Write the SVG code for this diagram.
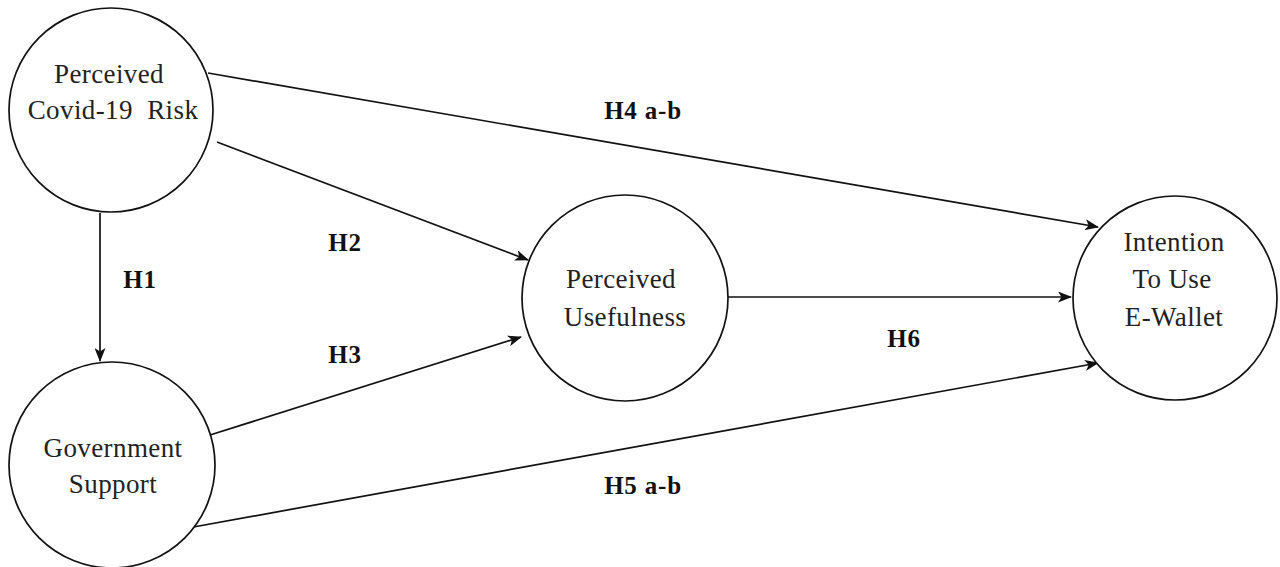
<svg xmlns="http://www.w3.org/2000/svg" width="1280" height="567" viewBox="0 0 1280 567">
<style>
.node{fill:#fff;stroke:#111;stroke-width:1.7}
.nt{font-family:"Liberation Serif","Times New Roman",serif;font-size:27px;letter-spacing:0.4px;fill:#222;text-anchor:middle;white-space:pre}
.lbl{font-family:"Liberation Serif","Times New Roman",serif;font-size:25px;letter-spacing:0.8px;font-weight:bold;fill:#111;text-anchor:middle}
.edge{fill:none;stroke:#111;stroke-width:1.7;marker-end:url(#arr)}
</style>
<defs>
<marker id="arr" viewBox="0 0 14 11" refX="13" refY="5.5" markerWidth="14" markerHeight="11" markerUnits="userSpaceOnUse" orient="auto">
<path d="M0,0 L14,5.5 L0,11 L3.5,5.5 Z" fill="#111"/>
</marker>
</defs>
<g id="connectors">
<line class="edge" x1="100" y1="213" x2="100" y2="361"/>
<line class="edge" x1="208" y1="73" x2="1098" y2="227"/>
<line class="edge" x1="217" y1="142" x2="528" y2="260"/>
<line class="edge" x1="210" y1="435" x2="521" y2="337"/>
<line class="edge" x1="188" y1="528" x2="1098" y2="363"/>
<line class="edge" x1="728" y1="297" x2="1071" y2="297"/>
</g>
<g id="node-risk">
<circle class="node" cx="111" cy="110" r="102"/>
<text class="nt" x="109" y="83">Perceived</text>
<text class="nt" x="113" y="119" xml:space="preserve">Covid-19  Risk</text>
</g>
<g id="node-gov">
<circle class="node" cx="112" cy="465" r="103"/>
<text class="nt" x="113" y="457">Government</text>
<text class="nt" x="113" y="493">Support</text>
</g>
<g id="node-pu">
<circle class="node" cx="625" cy="298" r="103"/>
<text class="nt" x="621" y="288">Perceived</text>
<text class="nt" x="625" y="326">Usefulness</text>
</g>
<g id="node-intention">
<circle class="node" cx="1175" cy="298" r="102"/>
<text class="nt" x="1174" y="251">Intention</text>
<text class="nt" x="1172" y="288">To Use</text>
<text class="nt" x="1174" y="326">E-Wallet</text>
</g>
<g id="labels">
<text class="lbl" x="643" y="119">H4 a-b</text>
<text class="lbl" x="345" y="251">H2</text>
<text class="lbl" x="140" y="288">H1</text>
<text class="lbl" x="345" y="363">H3</text>
<text class="lbl" x="904" y="347">H6</text>
<text class="lbl" x="643" y="494">H5 a-b</text>
</g>
</svg>
